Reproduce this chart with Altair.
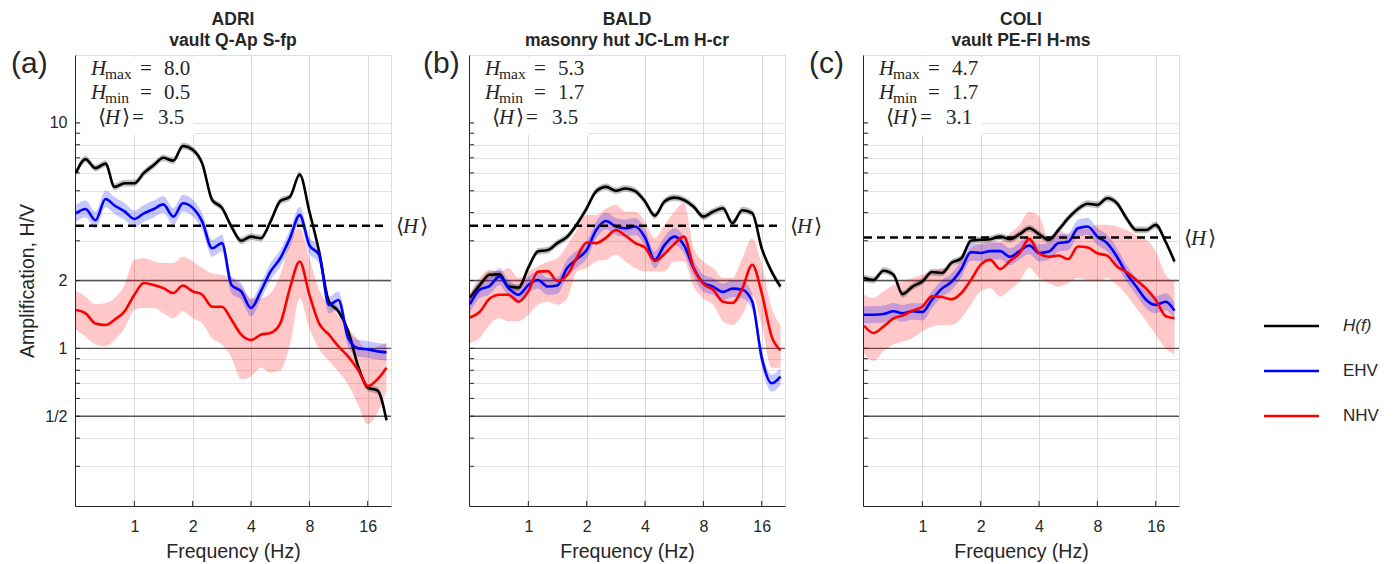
import altair as alt
import pandas as pd

# Frequency samples (Hz), shared by every site
FREQ = [0.5, 0.56, 0.63, 0.71, 0.79, 0.89, 1.0, 1.12, 1.26, 1.41, 1.59, 1.78,
        2.0, 2.24, 2.52, 2.83, 3.17, 3.56, 4.0, 4.49, 5.04, 5.66, 6.35, 7.13,
        8.0, 8.98, 10.1, 11.3, 12.7, 14.3, 16.0, 18.0, 20.0]

SITES = ["ADRI", "BALD", "COLI"]
SUBTITLES = ["vault Q-Ap S-fp", "masonry hut JC-Lm H-cr", "vault PE-Fl H-ms"]
TAGS = ["(a)", "(b)", "(c)"]
H_MAX = [8.0, 5.3, 4.7]
H_MIN = [0.5, 1.7, 1.7]
H_MEAN = [3.5, 3.5, 3.1]

# ADRI
ADRI_H = [6.0, 6.9, 6.3, 6.6, 5.2, 5.4, 5.4, 6.0, 6.5, 7.0, 6.8, 7.9,
          7.6, 6.6, 4.55, 4.2, 3.47, 3.0, 3.13, 3.08, 3.65, 4.5, 4.7, 5.9,
          4.05, 2.69, 1.61, 1.46, 1.19, 0.83, 0.67, 0.65, 0.48]
ADRI_EHV = [3.97, 4.15, 3.7, 4.6, 4.3, 4.05, 3.75, 3.97, 4.15, 4.35, 3.84, 4.4,
            4.2, 3.65, 2.78, 2.93, 1.91, 1.79, 1.51, 1.79, 2.19, 2.51, 3.08, 3.9,
            2.87, 2.6, 1.56, 1.64, 1.11, 1.0, 0.99, 0.97, 0.96]
ADRI_NHV = [1.48, 1.43, 1.29, 1.27, 1.34, 1.46, 1.73, 1.95, 1.91, 1.85, 1.76, 1.9,
            1.79, 1.73, 1.53, 1.53, 1.34, 1.15, 1.09, 1.15, 1.17, 1.29, 1.85, 2.43,
            1.73, 1.29, 1.15, 1.02, 0.92, 0.80, 0.68, 0.73, 0.82]
ADRI_NHV_LO = [1.21, 1.13, 1.04, 1.02, 1.09, 1.23, 1.48, 1.51, 1.51, 1.43, 1.36, 1.46,
               1.36, 1.29, 1.11, 1.04, 0.91, 0.73, 0.75, 0.82, 0.78, 0.80, 1.04, 1.67,
               1.23, 0.99, 0.88, 0.79, 0.69, 0.56, 0.46, 0.52, 0.65]
ADRI_NHV_HI = [1.80, 1.70, 1.57, 1.59, 1.67, 1.91, 2.47, 2.51, 2.43, 2.39, 2.39, 2.55,
               2.43, 2.27, 2.15, 2.12, 2.05, 1.88, 1.67, 1.67, 1.76, 2.12, 2.98, 3.41,
               2.51, 1.82, 1.56, 1.39, 1.23, 1.09, 0.97, 1.02, 1.06]

# BALD
BALD_H = [1.68, 1.90, 2.12, 2.13, 1.88, 1.86, 2.28, 2.69, 2.73, 2.93, 3.13, 3.55,
          4.18, 4.98, 5.2, 5.0, 5.12, 4.98, 4.48, 3.88, 4.48, 4.66, 4.55, 4.25,
          3.84, 4.04, 4.18, 3.59, 4.1, 3.98, 2.78, 2.19, 1.88]
BALD_EHV = [1.57, 1.82, 1.89, 2.08, 1.85, 1.73, 1.91, 2.01, 1.88, 1.9, 2.28, 2.49,
            2.73, 3.35, 3.67, 3.47, 3.41, 3.47, 3.1, 2.47, 2.87, 3.13, 2.87, 2.27,
            1.95, 1.88, 1.78, 1.84, 1.82, 1.61, 0.91, 0.70, 0.75]
BALD_NHV = [1.37, 1.45, 1.66, 1.73, 1.73, 1.61, 1.79, 2.19, 2.2, 1.99, 2.12, 2.53,
            2.95, 2.93, 3.1, 3.35, 3.16, 2.93, 2.8, 2.44, 2.62, 2.9, 3.13, 2.27,
            1.93, 1.82, 1.61, 1.59, 1.84, 2.35, 1.76, 1.13, 0.98]
BALD_NHV_LO = [1.06, 1.11, 1.27, 1.36, 1.32, 1.32, 1.41, 1.56, 1.61, 1.56, 1.67, 2.19,
               2.27, 2.43, 2.47, 2.6, 2.43, 2.27, 2.19, 2.19, 2.19, 2.43, 2.43, 1.88,
               1.67, 1.56, 1.32, 1.27, 1.41, 1.73, 1.27, 0.82, 0.82]
BALD_NHV_HI = [1.76, 2.05, 2.23, 2.19, 2.27, 2.05, 2.19, 2.31, 2.43, 2.51, 2.87, 3.35,
               3.9, 3.9, 4.17, 4.33, 4.04, 4.04, 3.65, 3.08, 3.53, 4.04, 4.4, 2.78,
               2.43, 2.27, 2.05, 2.05, 2.51, 3.08, 2.35, 1.51, 1.27]

# COLI
COLI_H = [2.05, 2.01, 2.21, 2.12, 1.74, 1.88, 1.98, 2.18, 2.16, 2.39, 2.51, 3.0,
          3.03, 3.05, 3.13, 3.05, 3.21, 3.41, 3.21, 3.03, 3.35, 3.78, 4.15, 4.38,
          4.33, 4.63, 4.4, 3.78, 3.35, 3.35, 3.53, 2.97, 2.43]
COLI_EHV = [1.41, 1.41, 1.42, 1.46, 1.43, 1.46, 1.45, 1.64, 1.84, 1.97, 2.25, 2.67,
            2.65, 2.7, 2.7, 2.55, 2.7, 2.86, 2.65, 2.69, 2.93, 2.97, 3.41, 3.47,
            3.13, 2.93, 2.55, 2.15, 1.88, 1.64, 1.56, 1.61, 1.47]
COLI_NHV = [1.26, 1.17, 1.25, 1.36, 1.40, 1.47, 1.53, 1.70, 1.69, 1.65, 1.76, 2.01,
            2.35, 2.47, 2.25, 2.44, 2.64, 3.06, 2.64, 2.55, 2.58, 2.49, 2.83, 2.8,
            2.64, 2.58, 2.31, 2.18, 2.01, 1.84, 1.64, 1.39, 1.36]
COLI_NHV_LO = [0.95, 0.88, 0.97, 1.04, 1.07, 1.11, 1.19, 1.25, 1.27, 1.27, 1.36, 1.56,
               1.79, 1.85, 1.70, 1.82, 1.98, 2.27, 2.05, 1.95, 1.88, 1.95, 2.05, 2.01,
               1.98, 2.05, 1.91, 1.73, 1.51, 1.32, 1.15, 1.0, 0.94]
COLI_NHV_HI = [1.73, 1.67, 1.79, 1.91, 1.98, 2.05, 2.12, 2.19, 2.27, 2.31, 2.47, 2.78,
               2.93, 2.98, 2.98, 3.24, 3.53, 4.04, 3.84, 3.08, 3.35, 3.18, 3.47, 3.41,
               3.53, 3.53, 3.47, 3.35, 3.18, 3.03, 2.69, 2.12, 1.98]

SERIES = [
    (ADRI_H, ADRI_EHV, ADRI_NHV, ADRI_NHV_LO, ADRI_NHV_HI),
    (BALD_H, BALD_EHV, BALD_NHV, BALD_NHV_LO, BALD_NHV_HI),
    (COLI_H, COLI_EHV, COLI_NHV, COLI_NHV_LO, COLI_NHV_HI),
]

# half-width (as a ratio) of the thin uncertainty bands drawn around H(f) and EHV
H_SPREAD = 1.035
EHV_SPREAD = 1.09

W, HT = 316, 451
X_DOMAIN = [0.494, 21.1]
Y_DOMAIN = [0.2, 20]
X_TICKS = [1, 2, 4, 8, 16]
Y_GRID = [0.3, 0.4, 0.5, 0.6, 0.7, 0.8, 0.9, 1, 2, 3, 4, 5, 6, 7, 8, 9, 10]
Y_STRONG = [0.5, 1, 2]
TAG_X = [-64, -46, -54]

SANS = "Liberation Sans"
SERIF = "Liberation Serif"
INK = "#262626"
BLACK, BLUE, RED = "#000000", "#0000ff", "#ff0000"
MATH = 21
SUB = 15.5

one = pd.DataFrame({"k": [0]})


def panel(i):
    h, ehv, nhv, nlo, nhi = SERIES[i]
    df = pd.DataFrame({"f": FREQ, "H": h, "EHV": ehv, "NHV": nhv,
                       "NHV_lo": nlo, "NHV_hi": nhi})
    df["H_lo"] = df["H"] / H_SPREAD
    df["H_hi"] = df["H"] * H_SPREAD
    df["EHV_lo"] = df["EHV"] / EHV_SPREAD
    df["EHV_hi"] = df["EHV"] * EHV_SPREAD

    xs = alt.Scale(type="log", domain=X_DOMAIN, nice=False)
    ys = alt.Scale(type="log", domain=Y_DOMAIN, nice=False)
    xaxis = alt.Axis(values=X_TICKS, format="d", grid=True, gridColor="#d9d9d9",
                     ticks=False, domainColor=INK, labelFont=SANS, labelFontSize=16,
                     labelColor=INK, labelPadding=12, title="Frequency (Hz)",
                     titleFont=SANS, titleFontSize=19.5, titleFontWeight="normal",
                     titleColor=INK, titlePadding=8, labelOverlap=False)
    if i == 0:
        yaxis = alt.Axis(values=Y_GRID, grid=True, gridColor="#e3e3e3", ticks=False,
                         domainColor=INK, labelFont=SANS, labelFontSize=16,
                         labelColor=INK, labelPadding=8, labelOverlap=False,
                         labelExpr="datum.value == 10 ? '10' : datum.value == 2 ? '2' : "
                                   "datum.value == 1 ? '1' : datum.value == 0.5 ? '1/2' : ''",
                         title="Amplification, H/V", titleFont=SANS, titleFontSize=19.5,
                         titleFontWeight="normal", titleColor=INK, titlePadding=7)
    else:
        yaxis = alt.Axis(values=Y_GRID, grid=True, gridColor="#e3e3e3", ticks=False,
                         domainColor=INK, labels=False, title=None)

    def X(field):
        return alt.X(f"{field}:Q", scale=xs, axis=xaxis)

    def Y(field):
        return alt.Y(f"{field}:Q", scale=ys, axis=yaxis)

    def label(txt, x, y, **kw):
        style = dict(font=SERIF, fontSize=MATH, align="left", baseline="alphabetic", color=INK)
        style.update(kw)
        return alt.Chart(one).mark_text(text=txt, **style).encode(
            x=alt.value(x), y=alt.value(y))

    base = alt.Chart(df)
    layers = []

    # heavy reference lines at 1/2, 1 and 2
    layers.append(alt.Chart(pd.DataFrame({"v": Y_STRONG})).mark_rule(
        color="#555555", strokeWidth=1.3).encode(y=Y("v"), x=alt.value(0), x2=alt.value(W)))
    # inward ticks
    layers.append(alt.Chart(pd.DataFrame({"v": Y_GRID})).mark_rule(
        color=INK, strokeWidth=1).encode(y=Y("v"), x=alt.value(0), x2=alt.value(5)))
    layers.append(alt.Chart(pd.DataFrame({"v": X_TICKS})).mark_rule(
        color=INK, strokeWidth=1).encode(x=X("v"), y=alt.value(HT), y2=alt.value(HT - 5)))

    # uncertainty bands
    layers.append(base.mark_area(color=RED, opacity=0.22, interpolate="monotone").encode(
        x=X("f"), y=Y("NHV_lo"), y2=alt.Y2("NHV_hi")))
    layers.append(base.mark_area(color=BLUE, opacity=0.22, interpolate="monotone").encode(
        x=X("f"), y=Y("EHV_lo"), y2=alt.Y2("EHV_hi")))
    layers.append(base.mark_area(color=BLACK, opacity=0.25, interpolate="monotone").encode(
        x=X("f"), y=Y("H_lo"), y2=alt.Y2("H_hi")))

    # curves
    for field, col in (("H", BLACK), ("EHV", BLUE), ("NHV", RED)):
        layers.append(base.mark_line(color=col, strokeWidth=2.6, interpolate="monotone").encode(
            x=X("f"), y=Y(field)))

    # mean level
    mean_df = pd.DataFrame({"a": [FREQ[0]], "b": [FREQ[-1]], "m": [H_MEAN[i]]})
    layers.append(alt.Chart(mean_df).mark_rule(color=BLACK, strokeWidth=2.5,
                                               strokeDash=[8, 5]).encode(
        x=X("a"), x2=alt.X2("b"), y=Y("m")))
    for txt, xo, font, style in (("\u27e8", 321, "DejaVu Serif", "normal"),
                                 ("H", 328, SERIF, "italic"),
                                 ("\u27e9", 345, "DejaVu Serif", "normal")):
        layers.append(alt.Chart(mean_df).mark_text(
            text=txt, font=font, fontStyle=style, fontSize=MATH, align="left",
            baseline="alphabetic", dy=7, color=INK).encode(x=alt.value(xo), y=Y("m")))

    # statistics box
    layers.append(alt.Chart(one).mark_rect(color="white").encode(
        x=alt.value(6), x2=alt.value(119), y=alt.value(2), y2=alt.value(80)))
    for sub, val, yb in (("max", H_MAX[i], 20), ("min", H_MIN[i], 44)):
        layers.append(label("H", 16, yb, fontStyle="italic"))
        layers.append(label(sub, 30, yb + 4, fontSize=SUB))
        layers.append(label("=", 65, yb))
        layers.append(label(f"{val:.1f}", 89, yb))
    layers.append(label("\u27e8", 23, 69, font="DejaVu Serif"))
    layers.append(label("H", 30, 69, fontStyle="italic"))
    layers.append(label("\u27e9", 47, 69, font="DejaVu Serif"))
    layers.append(label("=", 57, 69))
    layers.append(label(f"{H_MEAN[i]:.1f}", 83, 69))

    # titles and panel tag
    layers.append(label(SITES[i], W / 2, -30, font=SANS, fontWeight="bold",
                        fontSize=17.5, align="center"))
    layers.append(label(SUBTITLES[i], W / 2, -9, font=SANS, fontWeight="bold",
                        fontSize=17.5, align="center"))
    layers.append(label(TAGS[i], TAG_X[i], 18, font=SANS, fontSize=30))

    # legend, placed to the right of the last panel
    if i == 2:
        for (name, col, yo, style) in (("H(f)", BLACK, 271, "italic"),
                                       ("EHV", BLUE, 316, "normal"),
                                       ("NHV", RED, 361, "normal")):
            layers.append(alt.Chart(one).mark_rule(color=col, strokeWidth=2.6).encode(
                x=alt.value(401), x2=alt.value(456), y=alt.value(yo)))
            layers.append(label(name, 480, yo, font=SANS, fontStyle=style,
                                fontSize=17, baseline="middle"))

    return alt.layer(*layers).properties(width=W, height=HT)


chart = alt.hconcat(panel(0), panel(1), panel(2), spacing=78).properties(
    bounds="flush",
    padding={"left": 10, "top": 10, "right": 10, "bottom": 4},
).configure_view(stroke=None).configure(font=SANS)

chart.save("out.html", embed_options={"renderer": "svg", "actions": False})
